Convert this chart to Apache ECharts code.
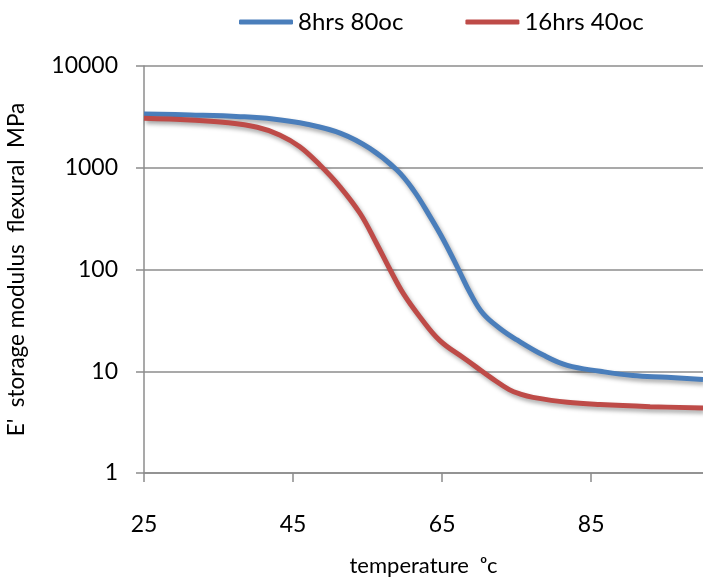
<!DOCTYPE html>
<html style="height: 100%">
<head>
    <meta charset="utf-8">
</head>
<body style="height: 100%; margin: 0; background-color: #fff;">
<div id="container" style="width: 703px; height: 577px"></div>
<script type="text/javascript" src="https://cdn.jsdelivr.net/npm/echarts@6/dist/echarts.min.js"></script>
<script type="text/javascript">
    // (temperature in oC, modulus in MPa)
    var seriesNames = ['8hrs 80oc', '16hrs 40oc'];
    var tempBlue = [25, 31.2, 37.9, 42.3, 46.9, 51.4, 55.3, 58.9, 61.15, 63.4, 65.2, 67.2, 68.8, 70.5, 72.8, 75.0, 78.5, 81.8, 86.2, 90.6, 95.2, 100];
    var modBlue = [3380, 3300, 3180, 3020, 2680, 2180, 1550, 955, 603, 329, 194, 100, 58, 36.8, 26.2, 20.4, 14.5, 11.4, 10.0, 9.07, 8.73, 8.28];
    var tempRed = [25, 31.2, 35.6, 40.2, 43.2, 45.9, 48.6, 51.3, 54.0, 56.2, 58.0, 59.8, 62.05, 64.7, 67.9, 69.5, 71.5, 74.0, 75.5, 77.2, 81.8, 86.2, 92.9, 100];
    var modRed = [3070, 2950, 2800, 2500, 2100, 1610, 1064, 650, 355, 180, 100, 57.9, 34.0, 20.0, 13.5, 11.1, 8.7, 6.6, 5.96, 5.54, 4.95, 4.70, 4.49, 4.36];
    var xTicks = [25, 45, 65, 85];

    function pairs(xs, ys) {
        return xs.map(function (x, i) { return [x, ys[i]]; });
    }

    var font = 'Lato';
    var dom = document.getElementById("container");
    var myChart = echarts.init(dom);

    var lineShadow = {
        shadowColor: 'rgba(0,0,0,0.35)',
        shadowBlur: 4,
        shadowOffsetX: 2,
        shadowOffsetY: 3
    };

    var option = {
        animation: false,
        legend: {
            left: 234,
            top: 5,
            itemWidth: 54,
            itemHeight: 5,
            itemGap: 62,
            icon: 'roundRect',
            textStyle: { fontFamily: font, fontSize: 24, color: '#000' },
            data: seriesNames
        },
        grid: { left: 144, right: 0, top: 66, bottom: 104, outerBoundsMode: 'none' },
        xAxis: {
            type: 'value',
            min: 25,
            max: 100,
            interval: 20,
            name: 'temperature  \u1d52c',
            nameLocation: 'middle',
            nameGap: 82,
            nameTextStyle: { fontFamily: font, fontSize: 22, color: '#000' },
            axisLine: { lineStyle: { color: '#8c8c8c', width: 1.5 } },
            axisTick: { length: 9, lineStyle: { color: '#8c8c8c', width: 1.5 } },
            axisLabel: {
                margin: 40,
                fontFamily: font, fontSize: 23, color: '#000',
                showMaxLabel: false,
                formatter: function (v) { return xTicks.indexOf(v) >= 0 ? String(v) : ''; }
            },
            splitLine: { show: false }
        },
        yAxis: {
            type: 'log',
            logBase: 10,
            min: 1,
            max: 10000,
            name: "E'  storage modulus  flexural  MPa",
            nameLocation: 'middle',
            nameGap: 116,
            nameTextStyle: { fontFamily: font, fontSize: 22.5, color: '#000' },
            axisLine: { show: true, lineStyle: { color: '#8c8c8c', width: 1.5 } },
            axisTick: { show: true, length: 8, lineStyle: { color: '#8c8c8c', width: 1.5 } },
            axisLabel: {
                margin: 26,
                fontFamily: font, fontSize: 23, color: '#000',
                formatter: function (v) { return String(Math.round(v)); }
            },
            splitLine: { lineStyle: { color: '#8c8c8c', width: 1.5 } }
        },
        series: [
            {
                name: seriesNames[0],
                type: 'line',
                smooth: 0.4,
                showSymbol: false,
                color: '#4a7ebb',
                lineStyle: Object.assign({ width: 5, color: '#4a7ebb' }, lineShadow),
                data: pairs(tempBlue, modBlue)
            },
            {
                name: seriesNames[1],
                type: 'line',
                smooth: 0.4,
                showSymbol: false,
                color: '#be4b48',
                lineStyle: Object.assign({ width: 5, color: '#be4b48' }, lineShadow),
                data: pairs(tempRed, modRed)
            }
        ]
    };
    myChart.setOption(option);
</script>
</body>
</html>
